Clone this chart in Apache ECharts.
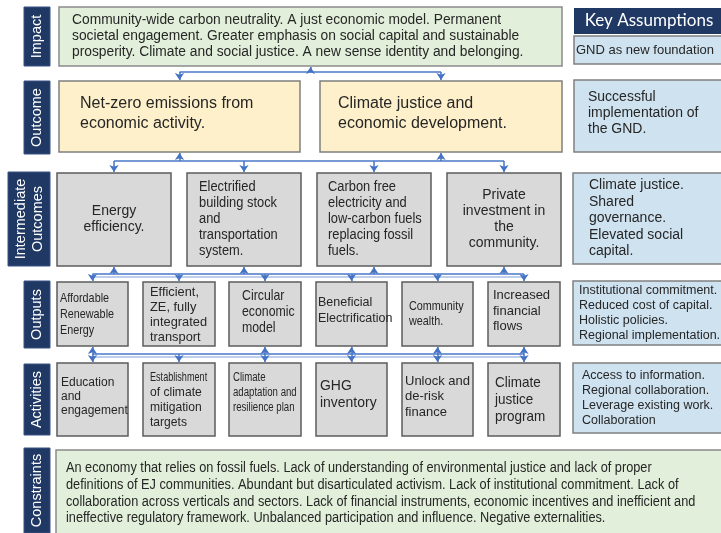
<!DOCTYPE html>
<html>
<head>
<meta charset="utf-8">
<title>GND logic model</title>
<script src="https://cdn.jsdelivr.net/npm/echarts@6/dist/echarts.min.js"></script>
<style>
  html, body { margin: 0; padding: 0; background: #fff; }
  #chart { width: 721px; height: 533px; }
</style>
</head>
<body>
<div id="chart"></div>
<script>
// ---- data (texts of the logic model) ----
const tierLabels = ['Impact', 'Outcome', 'Intermediate\nOutcomes', 'Outputs', 'Activities', 'Constraints']
const impactText = [
  'Community-wide carbon neutrality. A just economic model. Permanent',
  'societal engagement. Greater emphasis on social capital and sustainable',
  'prosperity. Climate and social justice. A new sense identity and belonging.'
]
const outcomeTexts = ['Net-zero emissions from\neconomic activity.', 'Climate justice and\neconomic development.']
const intermediateTexts = [
  'Energy\nefficiency.',
  'Electrified\nbuilding stock\nand\ntransportation\nsystem.',
  'Carbon free\nelectricity and\nlow-carbon fuels\nreplacing fossil\nfuels.',
  'Private\ninvestment in\nthe\ncommunity.'
]
const outputTexts = [
  'Affordable\nRenewable\nEnergy',
  'Efficient,\nZE, fully\nintegrated\ntransport',
  'Circular\neconomic\nmodel',
  'Beneficial\nElectrification',
  'Community\nwealth.',
  'Increased\nfinancial\nflows'
]
const activityTexts = [
  'Education\nand\nengagement',
  'Establishment\nof climate\nmitigation\ntargets',
  'Climate\nadaptation and\nresilience plan',
  'GHG\ninventory',
  'Unlock and\nde-risk\nfinance',
  'Climate\njustice\nprogram'
]
const assumptionHeader = 'Key Assumptions'
const assumptionTexts = [
  'GND as new foundation',
  'Successful\nimplementation of\nthe GND.',
  'Climate justice.\nShared\ngovernance.\nElevated social\ncapital.',
  'Institutional commitment.\nReduced cost of capital.\nHolistic policies.\nRegional implementation.',
  'Access to information.\nRegional collaboration.\nLeverage existing work.\nCollaboration'
]
const constraintText = [
  'An economy that relies on fossil fuels. Lack of understanding of environmental justice and lack of proper',
  'definitions of EJ communities. Abundant but disarticulated activism. Lack of institutional commitment. Lack of',
  'collaboration across verticals and sectors. Lack of financial instruments, economic incentives and inefficient and',
  'ineffective regulatory framework. Unbalanced participation and influence. Negative externalities.'
]

// ---- layout (pixel units on a 721 x 533 value grid) ----
const ARIAL = '"Liberation Sans", Arial, sans-serif'

const rowY = {
  impact: [7, 66],
  outcome: [81, 152],
  inter: [173, 266],
  outputs: [282, 346],
  activities: [363, 436]
}
const labelBoxes = [[24, 7, 50, 66], [24, 81, 50, 154], [8, 172, 50, 266], [24, 281, 50, 348], [24, 364, 50, 435], [24, 448, 50, 533]]
const impactCol = [59, 562]
const outcomeCols = [[59, 300], [320, 562]]
const interCols = [[57, 171], [187, 301], [317, 431], [447, 561]]
const smallCols = [[57, 128], [143, 215], [229, 301], [316, 387], [402, 473], [488, 560]]

const interStyle = [{ align: 'center' }, { pad: 12, sx: 0.92 }, { pad: 11, sx: 0.92 }, { align: 'center' }]
const outputStyle = [
  { size: 13.5, lh: 16, pad: 3, sx: 0.8 },
  { size: 13.5, lh: 15, pad: 7, dy: 1, sx: 0.95 },
  { size: 14.5, lh: 16, pad: 13, dy: -2, sx: 0.85 },
  { size: 12.5, lh: 16, pad: 2, dy: -3 },
  { size: 13.5, lh: 15, pad: 7, sx: 0.8 },
  { size: 13, lh: 15.5, pad: 5, dy: -3 }
]
const activityStyle = [
  { size: 12, lh: 14, pad: 4, dy: -3 },
  { size: 13, lh: 15, pad: 7, sx: 0.93, firstSx: 0.7 },
  { size: 12.5, lh: 15, pad: 4, dy: -7, sx: 0.77 },
  { size: 15, lh: 17, pad: 4, dy: -5, sx: 0.93 },
  { size: 13, lh: 15.5, pad: 3, dy: -3 },
  { size: 14.5, lh: 17, pad: 7, sx: 0.93 }
]

const kinds = {
  label: { fill: '#1f3864', stroke: '#3a5284', lw: 1, color: '#ffffff' },
  header: { fill: '#1f3864', stroke: null, lw: 0, color: '#ffffff' },
  green: { fill: '#e2efda', stroke: '#8a8a8a', lw: 1.5 },
  yellow: { fill: '#fdf0ca', stroke: '#7f7f7f', lw: 1.5 },
  gray: { fill: '#d9d9d9', stroke: '#5c5c5c', lw: 1.5 },
  blue: { fill: '#cfe2f0', stroke: '#808080', lw: 1.5 }
}

const boxes = []
function box (x0, y0, x1, y1, kind, text, opt = {}) {
  boxes.push(Object.assign({ x0, y0, x1, y1, kind, text, size: 14, lh: 16, sx: 1 }, opt))
}
const mid = c => (c[0] + c[1]) / 2

// tier labels
tierLabels.forEach((t, i) => {
  const b = labelBoxes[i]
  box(b[0], b[1], b[2], b[3], 'label', t, { rotate: true, size: 14.5, lh: 17 })
})
// impact / outcomes
box(impactCol[0], rowY.impact[0], impactCol[1], rowY.impact[1], 'green', impactText.join('\n'), { size: 13.8, pad: 13 })
outcomeTexts.forEach((t, i) => {
  const c = outcomeCols[i]
  box(c[0], rowY.outcome[0], c[1], rowY.outcome[1], 'yellow', t, { size: 16, lh: 20, pad: i ? 18 : 21, dy: -3 })
})
intermediateTexts.forEach((t, i) => {
  const c = interCols[i]
  box(c[0], rowY.inter[0], c[1], rowY.inter[1], 'gray', t, interStyle[i])
})
outputTexts.forEach((t, i) => {
  const c = smallCols[i]
  box(c[0], rowY.outputs[0], c[1], rowY.outputs[1], 'gray', t, outputStyle[i])
})
activityTexts.forEach((t, i) => {
  const c = smallCols[i]
  box(c[0], rowY.activities[0], c[1], rowY.activities[1], 'gray', t, activityStyle[i])
})
// key assumptions column
box(574, 8, 724, 34, 'header', assumptionHeader, { family: 'Lato, "Open Sans", sans-serif', size: 17, align: 'center' })
box(574, 36, 724, 64, 'blue', assumptionTexts[0], { size: 13, pad: 2 })
box(574, 80, 724, 152, 'blue', assumptionTexts[1], { pad: 14, dy: -3 })
box(573, 173, 724, 264, 'blue', assumptionTexts[2], { pad: 16, lh: 16.5 })
box(573, 281, 724, 345, 'blue', assumptionTexts[3], { size: 12.5, lh: 15, pad: 6 })
box(573, 363, 724, 433, 'blue', assumptionTexts[4], { size: 12.5, lh: 15, pad: 9 })
// constraints
box(56, 450, 724, 540, 'green', constraintText.join('\n'), { size: 14, lh: 16.7, pad: 10, top: 10, sx: 0.91 })

// ---- connectors: a horizontal bus between two tiers, stubs with arrow heads ----
const buses = [
  { y: 72, up: [mid(impactCol)], upY: rowY.impact[1], down: outcomeCols.map(mid), downY: rowY.outcome[0] },
  { y: 161, up: outcomeCols.map(mid), upY: rowY.outcome[1], down: interCols.map(mid), downY: rowY.inter[0] },
  { y: 274, up: interCols.map(mid), upY: rowY.inter[1], down: smallCols.map(mid), downY: rowY.outputs[0], ghost: 3 },
  { y: 354, up: smallCols.filter((c, i) => i !== 1).map(mid), upY: rowY.outputs[1], down: smallCols.map(mid), downY: rowY.activities[0], ghost: 3 }
]
const busLines = []
const ghostLines = []
const stubs = []
buses.forEach(b => {
  const xs = b.up.concat(b.down)
  const x0 = Math.min(...xs), x1 = Math.max(...xs)
  busLines.push({ coords: [[x0, b.y], [x1, b.y]] })
  if (b.ghost) ghostLines.push({ coords: [[x0 - 2, b.y + b.ghost], [x1 + 2, b.y + b.ghost]] })
  b.up.forEach(x => stubs.push({ coords: [[x, b.y], [x, b.upY + 1]] }))
  b.down.forEach(x => stubs.push({ coords: [[x, b.y], [x, b.downY - 1]] }))
})

function textEl (b, k, x, y, text, sx, valign) {
  return {
    type: 'text',
    x,
    y,
    rotation: b.rotate ? Math.PI / 2 : 0,
    scaleX: sx,
    style: {
      text,
      fill: k.color || '#262626',
      fontSize: b.size,
      fontFamily: b.family || ARIAL,
      lineHeight: b.lh,
      align: b.rotate || b.align === 'center' ? 'center' : 'left',
      verticalAlign: valign
    }
  }
}

function renderBox (params, api) {
  const b = boxes[api.value(4)]
  const k = kinds[b.kind]
  const p0 = api.coord([api.value(0), api.value(1)])
  const p1 = api.coord([api.value(2), api.value(3)])
  const x = p0[0], y = p0[1], w = p1[0] - p0[0], h = p1[1] - p0[1]
  const tx = b.align === 'center' || b.rotate ? x + w / 2 : x + (b.pad || 6)
  const ty = b.top != null ? y + b.top : y + h / 2 + (b.dy || 0)
  const valign = b.top != null ? 'top' : 'middle'
  const children = [
    { type: 'rect', shape: { x, y, width: w, height: h }, style: { fill: k.fill, stroke: k.stroke || 'none', lineWidth: k.lw } }
  ]
  if (b.firstSx) {
    // first line set tighter than the rest
    const lines = b.text.split('\n')
    const n = lines.length
    children.push(textEl(b, k, tx, ty - (n - 1) * b.lh / 2, lines[0], b.firstSx, 'middle'))
    children.push(textEl(b, k, tx, ty + b.lh / 2, lines.slice(1).join('\n'), b.sx, 'middle'))
  } else {
    children.push(textEl(b, k, tx, ty, b.text, b.sx, valign))
  }
  return { type: 'group', children }
}

const chart = echarts.init(document.getElementById('chart'))
chart.setOption({
  animation: false,
  backgroundColor: '#ffffff',
  grid: { left: 0, right: 0, top: 0, bottom: 0 },
  xAxis: { type: 'value', min: 0, max: 721, show: false },
  yAxis: { type: 'value', min: 0, max: 533, inverse: true, show: false },
  series: [
    {
      type: 'custom',
      silent: true,
      renderItem: renderBox,
      data: boxes.map((b, i) => [b.x0, b.y0, b.x1, b.y1, i])
    },
    {
      type: 'lines',
      coordinateSystem: 'cartesian2d',
      silent: true,
      symbol: 'none',
      lineStyle: { color: '#a8bfe6', width: 1.5, opacity: 1 },
      data: ghostLines
    },
    {
      type: 'lines',
      coordinateSystem: 'cartesian2d',
      silent: true,
      symbol: 'none',
      lineStyle: { color: '#4a78c8', width: 1.5, opacity: 1 },
      data: busLines
    },
    {
      type: 'lines',
      coordinateSystem: 'cartesian2d',
      silent: true,
      symbol: ['none', 'arrow'],
      symbolSize: 7,
      lineStyle: { color: '#4472c4', width: 1.5, opacity: 1 },
      data: stubs
    }
  ]
})
</script>
</body>
</html>
